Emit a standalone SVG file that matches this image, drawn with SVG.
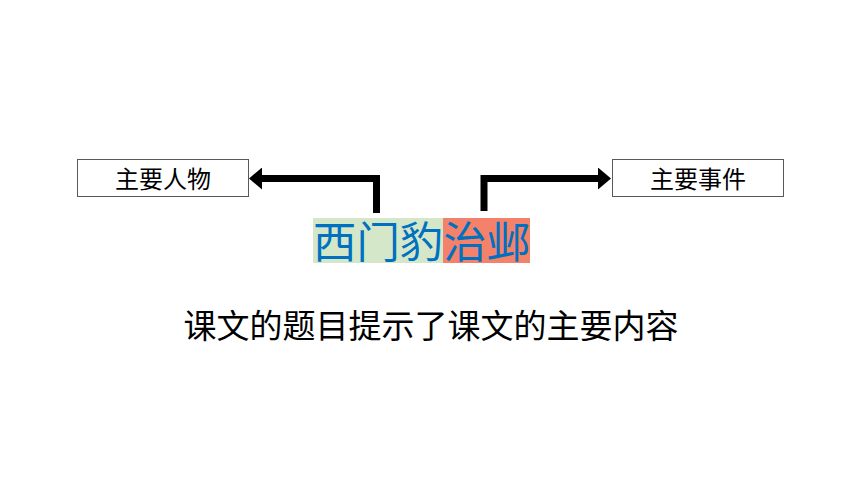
<svg xmlns="http://www.w3.org/2000/svg" width="860" height="484" viewBox="0 0 860 484">
<style>
.box{fill:#fff;stroke:#595959;stroke-width:1}
.lbl{font-family:"Noto Sans CJK SC","Noto Sans CJK JP",sans-serif;font-size:24px;fill:#000;text-anchor:middle}
.conn{fill:none;stroke:#000;stroke-width:7}
.title{font-family:"Noto Sans CJK SC",sans-serif;font-size:43.4px;fill:#0070C0}
.sub{font-family:"Noto Sans CJK SC",sans-serif;font-size:33px;fill:#000;text-anchor:middle}
</style>
<defs>
<marker id="ah" markerUnits="userSpaceOnUse" markerWidth="14" markerHeight="22" refX="0" refY="11" orient="auto">
<path d="M0,0 L13,11 L0,22 Z" fill="#000"/>
</marker>
</defs>
<rect width="860" height="484" fill="#fff"/>
<g id="connectors">
<path class="conn" d="M376.5,213 V178.5 H262" marker-end="url(#ah)"/>
<path class="conn" d="M484,211 V178.5 H598" marker-end="url(#ah)"/>
</g>
<g id="node-people">
<rect class="box" x="77.5" y="159.5" width="171" height="37"/>
<text class="lbl" x="163" y="188">主要人物</text>
</g>
<g id="node-events">
<rect class="box" x="612.5" y="159.5" width="171" height="37"/>
<text class="lbl" x="698" y="188">主要事件</text>
</g>
<g id="node-title">
<rect x="313" y="218" width="130" height="45" fill="#D4E8C9"/>
<rect x="443" y="218" width="87" height="45" fill="#F4826A"/>
<text class="title" x="313" y="257.5">西门豹治邺</text>
</g>
<g id="caption">
<text class="sub" x="431" y="338">课文的题目提示了课文的主要内容</text>
</g>
</svg>
